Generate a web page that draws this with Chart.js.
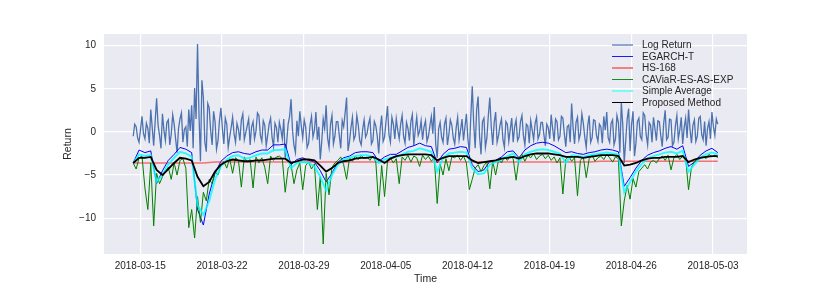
<!DOCTYPE html>
<html lang="en">
<head>
<meta charset="UTF-8">
<title>VaR forecasts</title>
<script src="https://cdn.jsdelivr.net/npm/chart.js"></script>
<style>
  body { margin: 0; background: #fff; }
  #wrap { position: relative; width: 830px; height: 291px; }
  #legend { position: absolute; left: 612px; top: 39px; font-family: 'Liberation Sans', Arial, sans-serif; font-size: 10px; color: #262626; }
  .row { position: relative; height: 11.6px; line-height: 11.6px; white-space: nowrap; }
  .swatch { position: absolute; left: 0; width: 21px; }
  .row span { position: absolute; left: 30px; top: 0; }
</style>
</head>
<body>
<div id="wrap">
  <canvas id="chart" width="830" height="291"></canvas>
  <div id="legend"></div>
</div>
<script>
// time axis: days counted from 2018-03-15 00:00, first sample on 03-14 ~10h
const startDay = -0.6;
const xTickDays = [0, 7, 14, 21, 28, 35, 42, 49];
const yTicks = [-10, -5, 0, 5, 10];

// one value every 3 hours
const logReturn = [
  -0.5, 0.9, 0.6, -0.7, -1.2, 0.3, 1.8, -0.2, -0.8, 1.0, 0.4, -1.3, 2.6, 0.5, -1.6, 1.2, 3.9, 0.8, -0.4, -1.9,
  2.1, 0.2, -1.0, 1.1, 1.4, -1.5, -0.3, 2.0, 0.9, -0.8, -2.4, 0.4, 1.5, 2.2, -1.2, 0.3, 0.6, -1.7, 2.6, 0.1,
  3.1, -1.9, 5.1, 1.5, 10.2, 2.0, -3.4, 6.0, 4.0, -1.2, -2.3, 3.3, 2.8, 0.1, -1.5, 2.4, 1.2, -2.0, -1.0, 1.3,
  2.8, 0.4, -1.4, 1.6, 0.9, -1.8, -0.6, 0.5, 1.7, -0.2, -1.2, 1.0, 0.3, -1.0, 1.4, 2.1, -0.9, -0.1, 0.7, 1.5,
  -1.5, 0.6, 1.2, -0.8, 0.1, 2.2, 1.9, -0.4, -1.1, 1.3, 0.8, -1.6, -0.4, 0.9, 1.6, -0.6, -1.7, 1.0, 0.5, -1.2,
  1.1, 0.3, -0.8, 1.5, -3.0, -1.2, 0.9, 1.8, 3.8, 0.2, -1.6, -2.4, 1.3, -0.5, 2.4, 0.7, -0.7, 1.4, 0.6, -1.8,
  -1.3, 0.8, 1.8, -0.6, 0.2, 2.3, -0.9, 0.6, -3.2, -1.1, 1.5, 0.4, 3.1, -0.7, -1.8, 0.9, 1.9, -1.4, -0.5, 1.2,
  1.2, -0.4, -1.9, 1.3, 0.6, 2.2, 4.0, -2.2, -1.1, 0.5, 1.7, -0.9, -0.4, 1.9, 0.8, -1.0, -1.5, 0.3, 1.4, -0.6,
  -0.2, 0.9, 1.6, -1.4, -1.0, 1.2, 0.7, -0.5, -2.5, 0.4, 1.9, -1.1, -0.6, 1.3, 3.0, -0.3, -1.2, 1.7, 0.9, -0.8,
  1.5, 0.2, -0.8, 0.9, 1.9, -0.5, -1.3, 1.1, 0.4, -1.0, 1.2, 2.0, -1.6, 0.3, 1.7, -0.4, 0.1, 1.3, -0.9, 0.6,
  1.3, -1.1, -0.5, 0.7, 1.8, -0.2, 2.9, -1.4, -3.0, 0.4, 1.1, -0.6, -1.2, 0.9, 1.6, -1.5, -0.3, 1.4, 0.8, -0.7,
  -1.4, 0.5, 1.7, -0.9, 0.2, 1.5, -1.0, 0.6, 2.1, -0.8, -2.4, 1.8, 5.3, 0.9, -1.9, 2.6, 4.1, -0.5, -2.6, 1.2,
  1.6, -1.8, -0.7, 1.9, 4.0, 0.6, -1.5, 1.1, 2.3, -1.2, -0.4, 0.8, 1.5, -0.9, -1.8, 1.2, 0.9, -1.1, 0.3, 1.6,
  -1.2, 0.6, 1.4, -1.0, -0.6, 1.2, 1.9, -0.4, -1.5, 0.9, 0.7, -1.3, 1.3, 0.2, -0.9, 1.0, 1.7, -0.8, -0.3, 1.1,
  1.1, -0.3, -1.6, 0.9, 0.5, -0.8, 2.0, 0.4, -1.1, 1.5, 1.2, -0.9, -0.5, 1.8, 1.6, -0.2, -1.7, 0.6, 0.8, -1.2,
  3.3, 0.5, -1.4, 1.1, 1.7, -0.9, -0.2, 2.1, 1.0, -0.6, -1.8, 0.7, 1.9, -1.2, -0.7, 1.4, 1.3, -0.4, -1.1, 0.9,
  0.6, -1.3, 1.8, 0.2, 2.3, -0.7, -1.2, 1.0, 1.4, -1.5, -0.8, 1.9, 1.1, -2.4, 3.4, 0.8, -3.6, -1.0, 1.5, 2.7,
  -2.2, 0.9, 2.4, -2.8, -1.3, 1.2, 1.6, -0.5, -0.9, 2.2, 1.9, -0.3, -1.5, 1.1, 0.8, -1.2, 1.7, 0.4, -1.0, 1.3,
  1.2, -0.4, -1.7, 1.0, 2.5, -0.9, -0.6, 1.5, 1.4, -1.6, -1.2, 0.7, 1.9, -0.8, 0.2, 1.7, -1.4, 0.5, 1.6, -0.7,
  2.6, 0.3, -1.3, 0.8, 1.4, -1.1, -0.5, 1.6, 1.8, -0.3, -0.9, 1.2, -1.6, 0.4, 1.2, -0.8, 2.3, 0.6, -0.4, 1.5, 0.9
];

// one value every 6 hours
const caviar = [
  -3.6, -4.3, -3.0, -2.8, -6.5, -9.0, -3.6, -10.9, -4.8, -6.0,
  -5.2, -4.6, -4.1, -5.5, -3.6, -5.0, -3.3, -3.1, -4.2, -11.1,
  -9.0, -12.3, -7.5, -10.5, -7.0, -8.0, -5.5, -6.0, -4.6, -5.0,
  -3.9, -3.4, -4.2, -3.1, -4.8, -3.0, -3.3, -6.4, -2.9, -3.5,
  -3.2, -6.5, -2.9, -3.6, -3.0, -4.1, -6.0, -2.8, -3.3, -2.9,
  -2.8, -3.1, -7.0, -4.2, -3.8, -6.0, -4.4, -3.6, -6.7, -3.9,
  -3.5, -4.3, -3.7, -9.0, -5.2, -13.0, -4.8, -7.3, -4.1, -3.6,
  -3.3, -2.9, -3.8, -5.5, -3.0, -3.4, -2.8, -3.2, -2.7, -3.1,
  -2.9, -3.3, -2.8, -3.5, -8.6, -3.9, -7.5, -3.4, -3.0, -3.6,
  -3.1, -6.0, -2.9, -3.3, -2.7, -3.5, -2.8, -3.0, -4.0, -2.7,
  -3.2, -2.8, -3.4, -3.0, -8.3, -3.7, -5.0, -3.1, -4.5, -2.9,
  -3.0, -2.7, -3.3, -2.8, -3.6, -6.7, -5.5, -4.2, -3.8, -4.6,
  -3.9, -3.5, -6.6, -3.4, -5.0, -3.2, -3.6, -2.9, -3.3, -2.8,
  -3.1, -5.6, -3.0, -2.6, -3.4, -2.7, -3.0, -2.5, -3.2, -2.8,
  -2.6, -3.1, -2.7, -3.3, -2.9, -3.6, -3.0, -7.2, -3.2, -2.8,
  -3.4, -3.0, -7.4, -3.3, -2.9, -5.3, -3.1, -2.7, -3.4, -3.0,
  -2.8, -3.2, -2.6, -3.0, -3.5, -2.9, -3.1, -10.9, -8.0, -6.2,
  -7.8, -5.4, -6.4, -4.6, -4.2, -3.8, -4.3, -3.5, -3.3, -3.6,
  -3.1, -2.8, -3.3, -2.7, -4.4, -3.0, -2.6, -3.2, -2.8, -3.0,
  -6.7, -4.1, -3.5, -3.3, -3.0, -2.8, -3.1, -2.6, -2.9, -2.7, -3.0
];

// one value every 12 hours
const egarch = [
  -3.6, -2.1, -2.4, -2.2, -6.0, -4.5, -3.3, -2.6, -1.8, -2.0,
  -2.4, -9.0, -10.8, -7.2, -4.8, -3.4, -2.8, -2.4, -2.3, -2.5,
  -2.6, -2.3, -2.1, -2.1, -1.5, -1.5, -1.4, -3.8, -3.2, -3.0,
  -3.3, -3.5, -4.5, -5.8, -4.8, -3.5, -3.0, -2.8, -2.4, -2.3,
  -2.3, -2.4, -3.4, -2.9, -2.6, -2.6, -2.2, -1.8, -1.6, -1.3,
  -1.6, -1.7, -3.6, -2.6, -2.0, -1.9, -1.7, -1.8, -3.8, -4.6,
  -4.4, -3.4, -3.3, -2.9, -2.3, -2.2, -3.0, -2.1, -1.6, -1.3,
  -1.2, -1.3, -1.6, -2.0, -2.4, -2.3, -2.5, -2.6, -2.4, -2.3,
  -2.1, -2.0, -2.1, -2.3, -6.3, -5.3, -4.2, -3.3, -2.7, -2.4,
  -2.2, -1.9, -1.7, -2.0, -1.6, -4.0, -3.5, -2.7, -2.2, -1.9,
  -2.4
];

const simpleAverage = [
  -3.6, -2.6, -2.8, -2.7, -5.8, -5.0, -3.8, -3.0, -2.3, -2.5,
  -2.9, -8.5, -9.6, -8.0, -5.5, -4.0, -3.2, -2.8, -2.7, -3.1,
  -3.0, -2.7, -2.5, -2.5, -2.1, -2.1, -2.0, -4.2, -3.6, -3.5,
  -3.6, -4.0, -5.2, -6.8, -5.0, -3.8, -3.2, -3.0, -2.8, -2.7,
  -2.7, -2.9, -3.6, -3.2, -3.0, -2.9, -2.6, -2.3, -2.2, -1.9,
  -2.1, -2.3, -4.6, -3.0, -2.5, -2.4, -2.3, -2.4, -4.2, -4.9,
  -4.8, -3.8, -3.5, -3.2, -2.8, -2.5, -3.5, -2.6, -2.3, -2.1,
  -2.0, -2.1, -2.3, -2.5, -3.6, -2.7, -2.8, -2.9, -2.7, -2.6,
  -2.5, -2.4, -2.5, -2.6, -7.0, -5.8, -4.6, -3.7, -3.1, -2.8,
  -2.6, -2.4, -2.3, -2.5, -2.2, -4.6, -3.8, -3.0, -2.6, -2.4,
  -2.6
];

const proposed = [
  -3.6, -3.0, -3.0, -2.9, -4.4, -5.0, -4.3, -3.6, -3.0, -3.1,
  -3.3, -5.2, -6.3, -5.8, -4.6, -3.8, -3.4, -3.2, -3.3, -3.4,
  -3.4, -3.3, -3.3, -3.2, -3.1, -3.1, -3.1, -3.6, -3.4, -3.2,
  -3.2, -3.3, -3.9, -4.6, -4.2, -3.6, -3.4, -3.3, -3.1, -3.0,
  -3.0, -2.9, -3.2, -3.6, -3.1, -2.8, -2.7, -2.6, -2.6, -2.6,
  -2.6, -2.7, -3.3, -3.0, -2.8, -2.8, -2.8, -2.8, -3.3, -3.6,
  -3.5, -3.4, -3.3, -3.1, -3.0, -2.9, -3.1, -2.8, -2.6, -2.5,
  -2.5, -2.5, -2.6, -2.7, -2.9, -2.9, -2.9, -3.0, -2.9, -2.8,
  -2.7, -2.7, -2.7, -2.8, -3.9, -3.8, -3.6, -3.3, -3.1, -3.0,
  -3.0, -2.9, -2.9, -2.9, -2.8, -3.5, -3.2, -3.0, -2.9, -2.8,
  -2.8
];

// one value a day
const hs168 = [
  -3.6, -3.6, -3.6, -3.6, -3.6, -3.6, -3.6, -3.5, -3.5, -3.5,
  -3.5, -3.5, -3.5, -3.5, -3.5, -3.5, -3.5, -3.5, -3.5, -3.5,
  -3.5, -3.5, -3.5, -3.5, -3.5, -3.5, -3.5, -3.5, -3.5, -3.5,
  -3.5, -3.5, -3.5, -3.5, -3.5, -3.5, -3.5, -3.5, -3.5, -3.5,
  -3.4, -3.4, -3.4, -3.4, -3.4, -3.4, -3.4, -3.4, -3.4, -3.4,
  -3.4
];

const seriesNames = ['Log Return', 'EGARCH-T', 'HS-168', 'CAViaR-ES-AS-EXP', 'Simple Average', 'Proposed Method'];
const seriesColors = ['#4c72b0', '#0000ff', 'rgba(255,30,30,0.6)', '#008000', 'rgba(0,255,255,0.8)', '#000000'];
const seriesWidths = [1.3, 1, 1.5, 1, 2, 1.8];
const legendColors = ['#8ea6d0', '#1a1aff', '#f58080', '#1a8c1a', '#7ff7f7', '#000000'];
const legendWidths = [2, 1.2, 2, 1.2, 2.5, 1.8];

function toPoints(values, step) {
    return values.map((v, i) => ({ x: startDay + i * step, y: v }));
}

function dayLabel(v) {
    const d = new Date(Date.UTC(2018, 2, 15) + Math.round(v) * 86400000);
    return d.toISOString().slice(0, 10);
}

const seriesData = [
    toPoints(logReturn, 0.125),
    toPoints(egarch, 0.5),
    toPoints(hs168, 1),
    toPoints(caviar, 0.25),
    toPoints(simpleAverage, 0.5),
    toPoints(proposed, 0.5)
];

const bgPlugin = {
    id: 'bg',
    beforeDraw(chart) {
        const { ctx, chartArea: a } = chart;
        ctx.save();
        ctx.fillStyle = '#eaeaf2';
        ctx.fillRect(a.left, a.top, a.right - a.left, a.bottom - a.top);
        ctx.restore();
    }
};

const font = { family: "'Liberation Sans', Arial, sans-serif", size: 10 };

new Chart(document.getElementById('chart'), {
    type: 'line',
    data: {
        datasets: seriesData.map((pts, k) => ({
            label: seriesNames[k],
            data: pts,
            borderColor: seriesColors[k],
            borderWidth: seriesWidths[k],
            pointRadius: 0,
            tension: 0,
            fill: false,
            order: 5 - k
        }))
    },
    options: {
        responsive: false,
        animation: false,
        devicePixelRatio: 1,
        layout: { padding: { top: 34, right: 83, left: 0, bottom: 0 } },
        plugins: { legend: { display: false }, tooltip: { enabled: false } },
        scales: {
            x: {
                type: 'linear',
                min: -3.1,
                max: 51.9,
                afterBuildTicks: s => { s.ticks = xTickDays.map(v => ({ value: v })); },
                afterFit: s => { s.height = 37; },
                ticks: { callback: v => dayLabel(v), font: font, color: '#262626', padding: 6.5, maxRotation: 0, autoSkip: false },
                grid: { color: '#ffffff', lineWidth: 1.2, drawTicks: false },
                border: { display: false },
                title: { display: true, text: 'Time', font: { family: font.family, size: 10.5 }, color: '#262626', padding: { top: 0, bottom: 5.7 } }
            },
            y: {
                min: -14.16,
                max: 11.36,
                afterBuildTicks: s => { s.ticks = yTicks.map(v => ({ value: v })); },
                afterFit: s => { s.width = 104; },
                ticks: { callback: v => (v < 0 ? '\u2212' + Math.abs(v) : String(v)), font: font, color: '#262626', padding: 8 },
                grid: { color: '#ffffff', lineWidth: 1.2, drawTicks: false },
                border: { display: false },
                title: { display: true, text: 'Return', font: { family: font.family, size: 10.5 }, color: '#262626', padding: { top: 62, bottom: 0 } }
            }
        }
    },
    plugins: [bgPlugin]
});

// legend in the upper right corner
const legend = document.getElementById('legend');
seriesNames.forEach((name, k) => {
    const row = document.createElement('div');
    row.className = 'row';
    const sw = document.createElement('div');
    sw.className = 'swatch';
    sw.style.top = ((11.6 - legendWidths[k]) / 2) + 'px';
    sw.style.borderTop = legendWidths[k] + 'px solid ' + legendColors[k];
    const label = document.createElement('span');
    label.textContent = name;
    row.appendChild(sw);
    row.appendChild(label);
    legend.appendChild(row);
});
</script>
</body>
</html>
